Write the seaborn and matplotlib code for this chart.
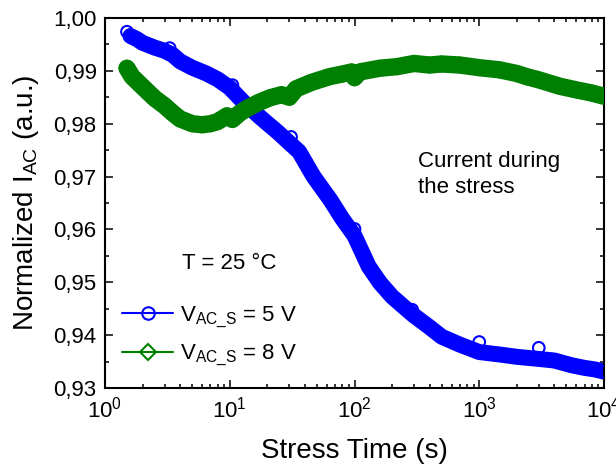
import matplotlib
matplotlib.use("Agg")
import matplotlib.pyplot as plt
import seaborn as sns
import pandas as pd
from matplotlib.lines import Line2D
from matplotlib.ticker import FuncFormatter, MultipleLocator

# V_AC_S = 5 V, main trace
t_5v = [1.6, 1.8, 2.0, 2.5, 3.0, 3.5, 4.0, 5.0, 6.5, 8.0, 10, 13, 18, 24, 30, 36, 47, 64, 80, 100,
        130, 160, 200, 250, 300, 400, 500, 700, 1000, 1500, 2000, 3000, 4000, 5500, 7000, 8500, 10000]
i_5v = [0.9966, 0.9960, 0.9953, 0.9944, 0.9938, 0.9930, 0.9918, 0.9906, 0.9895, 0.9884, 0.9868, 0.9840,
        0.9810, 0.9785, 0.9764, 0.9747, 0.9700, 0.9656, 0.9620, 0.9588, 0.9530, 0.9499, 0.9473, 0.9453,
        0.9437, 0.9415, 0.9397, 0.9382, 0.9368, 0.9363, 0.9359, 0.9355, 0.9352, 0.9343, 0.9338, 0.9335, 0.9331]
# first points of each measurement segment (sit above the trace)
t_5v_start = [1.5, 3.3, 10.5, 31, 100, 290, 1000, 3000]
i_5v_start = [0.9974, 0.9943, 0.9873, 0.9775, 0.9601, 0.9448, 0.9387, 0.9376]

# V_AC_S = 8 V
t_8v = [1.5, 1.65, 2.0, 2.5, 3.0, 3.5, 4.0, 5.0, 6.0, 7.0, 8.0, 9.5, 10.5, 12, 14, 17, 21, 26, 30, 34,
        45, 63, 80, 95, 100, 110, 160, 220, 300, 400, 500, 700, 1000, 1450, 2000, 2400, 3000, 4400,
        6000, 8000, 10000]
i_8v = [0.9905, 0.9889, 0.9870, 0.9848, 0.9834, 0.9820, 0.9809, 0.9800, 0.9798, 0.9800, 0.9804, 0.9815,
        0.9808, 0.9820, 0.9830, 0.9840, 0.9849, 0.9855, 0.9850, 0.9866, 0.9878, 0.9889, 0.9894, 0.9898,
        0.9887, 0.9898, 0.9905, 0.9908, 0.9914, 0.9911, 0.9913, 0.9911, 0.9906, 0.9902, 0.9895, 0.9889,
        0.9883, 0.9871, 0.9864, 0.9858, 0.9852]

blue = "#0000ff"
green = "#008000"

df5 = pd.DataFrame({"t": t_5v, "i": i_5v})
df5s = pd.DataFrame({"t": t_5v_start, "i": i_5v_start})
df8 = pd.DataFrame({"t": t_8v, "i": i_8v})

sns.set_theme(style="ticks")
plt.rcParams["font.family"] = ["Liberation Sans", "DejaVu Sans"]
plt.rcParams["mathtext.fontset"] = "custom"
plt.rcParams["mathtext.rm"] = "Liberation Sans"
plt.rcParams["mathtext.it"] = "Liberation Sans:italic"
plt.rcParams["mathtext.bf"] = "Liberation Sans:bold"
plt.rcParams["text.color"] = "black"
plt.rcParams["axes.labelcolor"] = "black"

fig = plt.figure(figsize=(6.16, 4.69), dpi=100)
ax = fig.add_axes([105 / 616, 1 - 388 / 469, 499 / 616, 370 / 469])

sns.lineplot(data=df5, x="t", y="i", color=blue, linewidth=11.5, sort=False, estimator=None, ax=ax,
             solid_capstyle="round", solid_joinstyle="round")
sns.scatterplot(data=pd.concat([df5, df5s]), x="t", y="i", marker="o", s=70, facecolor="none",
                edgecolor=blue, linewidth=1.5, ax=ax, zorder=3)
sns.lineplot(data=df8, x="t", y="i", color=green, linewidth=12.5, sort=False, estimator=None, ax=ax,
             solid_capstyle="round", solid_joinstyle="round", zorder=4)
sns.scatterplot(data=df8, x="t", y="i", marker="D", s=60, facecolor="none",
                edgecolor=green, linewidth=1.5, ax=ax, zorder=5)

ax.set_xscale("log")
ax.set_xlim(1, 1e4)
ax.set_ylim(0.93, 1.00)
ax.yaxis.set_major_locator(MultipleLocator(0.01))
ax.yaxis.set_minor_locator(MultipleLocator(0.005))
ax.yaxis.set_major_formatter(FuncFormatter(lambda v, p: f"{v:.2f}".replace(".", ",")))

ax.tick_params(which="both", direction="in", top=True, right=True, labelsize=16, colors="black")
ax.tick_params(which="major", length=6, width=1.1, pad=6)
ax.tick_params(which="minor", length=3, width=1.1)
for s in ax.spines.values():
    s.set_linewidth(1.5)
    s.set_color("black")

ax.set_xlabel("Stress Time (s)", fontsize=20, labelpad=11)
ax.set_ylabel(r"Normalized I$_{\mathrm{AC}}$ (a.u.)", fontsize=20, labelpad=9)

ax.text(0.155, 0.337, "T = 25 °C", transform=ax.transAxes, fontsize=16, va="center")
ax.text(0.628, 0.578, "Current during\nthe stress", transform=ax.transAxes, fontsize=16,
        va="center", linespacing=1.3)

handles = [
    Line2D([], [], color=blue, lw=1.5, marker="o", ms=9, mfc="none", mec=blue, mew=1.5),
    Line2D([], [], color=green, lw=1.5, marker="D", ms=8, mfc="none", mec=green, mew=1.5),
]
labels = [r"V$_{\mathrm{AC\_S}}$ = 5 V", r"V$_{\mathrm{AC\_S}}$ = 8 V"]
ax.legend(handles, labels, loc="upper left", bbox_to_anchor=(0.034, 0.226), frameon=False,
          fontsize=16, handlelength=2.3, handletextpad=0.3, labelspacing=0.6, borderpad=0,
          borderaxespad=0)

fig.savefig("out.png", dpi=100)
